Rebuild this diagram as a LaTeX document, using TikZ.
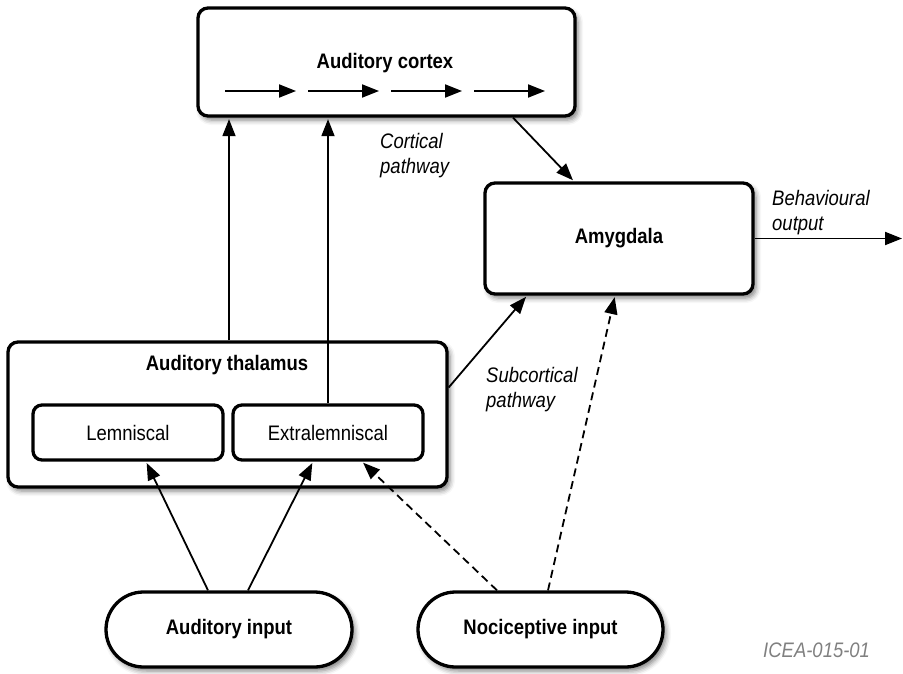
\documentclass[tikz,border=0pt]{standalone}
\usepackage{fontspec}
\setmainfont{Liberation Sans}[FakeStretch=0.88]
\usetikzlibrary{arrows.meta,shapes.misc,shadows.blur}

\tikzset{
  txt/.style={font=\fontsize{21}{25.5}\selectfont},
  boldtxt/.style={font=\fontsize{21}{25.5}\selectfont\bfseries},
  italtxt/.style={font=\fontsize{21}{25.5}\selectfont\itshape},
  softshadow/.style={blur shadow={shadow xshift=3pt, shadow yshift=-4pt,
      shadow blur radius=5pt, shadow opacity=50}},
  block/.style={draw, line width=3.3pt, rounded corners=10pt, fill=white,
      inner sep=0pt, softshadow},
  subblock/.style={draw, line width=3.3pt, rounded corners=9pt, fill=white,
      inner sep=0pt, txt},
  pill/.style={draw, rounded rectangle, line width=3.3pt, fill=white,
      inner sep=0pt, softshadow, boldtxt},
  arr/.style={line width=1.8pt, -{Triangle[length=17pt,width=13pt]},
      shorten >=1.5pt},
  dasharr/.style={arr, dash pattern=on 8pt off 5pt},
}

\begin{document}
\begin{tikzpicture}[x=1pt,y=-1pt]
  \useasboundingbox (0,0) rectangle (903,674);

  % boxes
  \node[block, minimum width=377, minimum height=108] (cortex) at (386.5,62) {};
  \node[boldtxt, anchor=base] (cortexname) at (385,69) {Auditory cortex};

  \node[block, minimum width=268, minimum height=111, boldtxt] (amyg) at (619,238.5) {Amygdala};

  \node[block, minimum width=439, minimum height=145] (thal) at (227.5,414.5) {};
  \node[boldtxt, anchor=base] (thalname) at (227,370) {Auditory thalamus};
  \node[subblock, minimum width=190, minimum height=55] (lem) at (128,432.5) {Lemniscal};
  \node[subblock, minimum width=190, minimum height=55] (extra) at (328,432.5) {Extralemniscal};

  \node[pill, minimum width=246, minimum height=75] (audin) at (229,629.5) {Auditory input};
  \node[pill, minimum width=245, minimum height=75] (noci) at (540.5,629.5) {Nociceptive input};

  % processing steps inside the cortex
  \foreach \sx in {225,308,391,474}
    \draw[arr, shorten >=0pt] (\sx,91) -- ++(71,0);

  % pathways
  \draw[arr] ([xshift=1.5pt]thal.north) -- ([xshift=1.5pt]thal.north |- cortex.south);
  \draw[arr] (extra.north) -- (extra.north |- cortex.south);
  \draw[arr] ([xshift=126.5pt]cortex.south) -- ([xshift=-45pt]amyg.north);
  \draw[arr] ([yshift=27pt]thal.east) -- ([xshift=-92pt]amyg.south);

  \coordinate (behout) at (902,240);
  \draw[arr, shorten >=0pt] (amyg.east) -- (amyg.east -| behout);

  \draw[arr] ([xshift=-21pt]audin.north) -- ([xshift=18pt]lem.south);
  \draw[arr] ([xshift=19pt]audin.north) -- ([xshift=-15pt]extra.south);
  \draw[dasharr] ([xshift=-43.5pt]noci.north) -- ([xshift=34pt]extra.south);
  \draw[dasharr] ([xshift=7.5pt]noci.north) -- ([xshift=-4pt]amyg.south);

  % labels
  \node[italtxt, align=left, anchor=north west, inner sep=0pt] (cortlbl) at (380,132.7) {Cortical\\pathway};
  \node[italtxt, align=left, anchor=north west, inner sep=0pt] (subclbl) at (486,366.7) {Subcortical\\pathway};
  \node[italtxt, align=left, anchor=north west, inner sep=0pt] (behlbl) at (772,189.7) {Behavioural\\output};
  \node[italtxt, anchor=base west, inner sep=0pt, text=black!50] (code) at (763,657) {ICEA-015-01};
\end{tikzpicture}
\end{document}
